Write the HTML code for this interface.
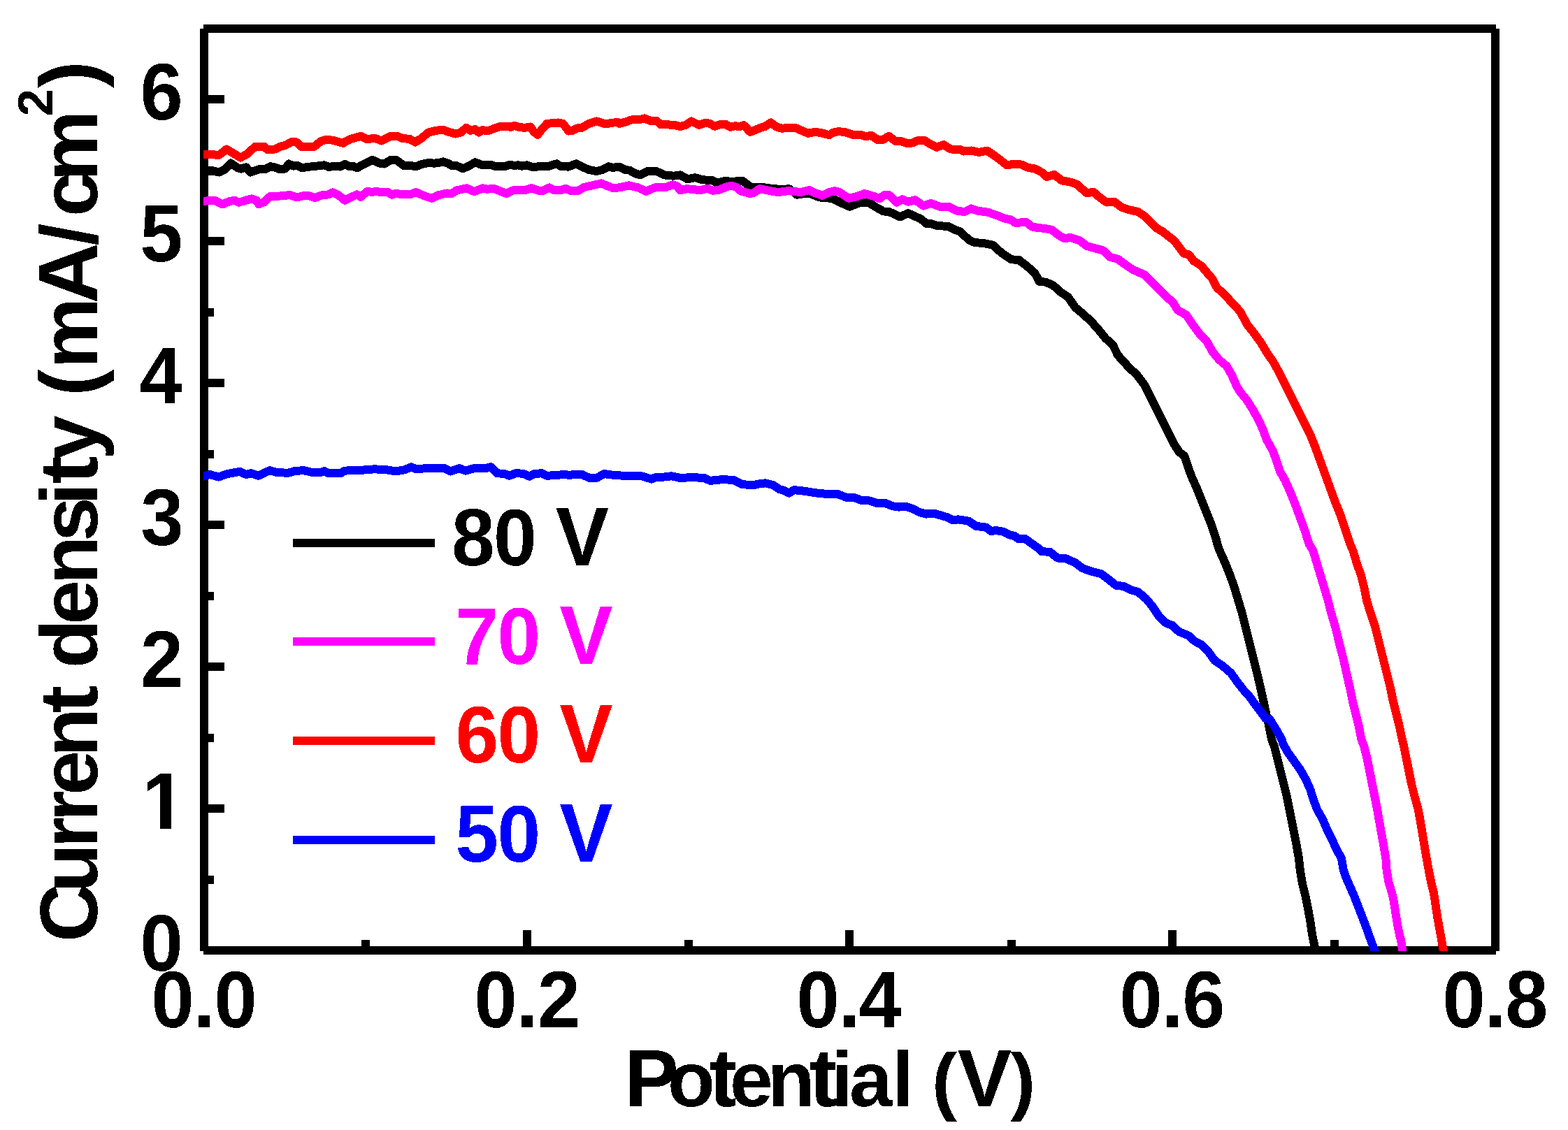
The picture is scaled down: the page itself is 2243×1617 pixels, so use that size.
<!DOCTYPE html>
<html lang="en"><head><meta charset="utf-8"><title>J-V curves: current density vs potential</title>
<style>html,body{margin:0;padding:0;background:#fff}body{width:2243px;height:1617px}svg{display:block}text{font-family:"Liberation Sans",sans-serif;font-weight:bold}</style>
</head><body>
<svg width="2243" height="1617" viewBox="0 0 2243 1617">
<defs><clipPath id="plot"><rect x="291" y="41" width="1849" height="1320"/></clipPath>
<filter id="crisp" x="-5%" y="-5%" width="110%" height="110%" color-interpolation-filters="sRGB"><feComponentTransfer><feFuncA type="discrete" tableValues="0 1"/></feComponentTransfer></filter>
</defs>
<rect x="0" y="0" width="2243" height="1617" fill="#fff"/>
<g fill="#000" shape-rendering="crispEdges">
<rect x="286" y="41" width="12" height="1320"/>
<rect x="2133" y="41" width="12" height="1320"/>
<rect x="291" y="35" width="1849" height="12"/>
<rect x="291" y="1354" width="1849" height="12"/>
<rect x="292" y="1151" width="29" height="12"/>
<rect x="292" y="948" width="29" height="12"/>
<rect x="292" y="745" width="29" height="12"/>
<rect x="292" y="542" width="29" height="12"/>
<rect x="292" y="339" width="29" height="12"/>
<rect x="292" y="136" width="29" height="12"/>
<rect x="292" y="1253" width="14" height="12"/>
<rect x="292" y="1050" width="14" height="12"/>
<rect x="292" y="847" width="14" height="12"/>
<rect x="292" y="644" width="14" height="12"/>
<rect x="292" y="441" width="14" height="12"/>
<rect x="292" y="238" width="14" height="12"/>
<rect x="748" y="1331" width="12" height="29"/>
<rect x="1209" y="1331" width="12" height="29"/>
<rect x="1671" y="1331" width="12" height="29"/>
<rect x="517" y="1345" width="12" height="15"/>
<rect x="979" y="1345" width="12" height="15"/>
<rect x="1441" y="1345" width="12" height="15"/>
<rect x="1903" y="1345" width="12" height="15"/>
</g>
<g clip-path="url(#plot)" fill="none" stroke-width="12" stroke-linejoin="round" stroke-linecap="butt" shape-rendering="crispEdges">
<polyline stroke="#000000" points="280,245.23 292.02,245.23 306.06,244.69 313.42,246.57 322.11,242.29 330.14,233.59 339.5,239.88 344.85,241.62 352.21,239.34 358.22,246.57 366.25,243.62 372.94,241.62 379.62,242.02 386.98,238.27 393,239.34 399.69,242.02 407.71,241.62 413.06,234.53 419.75,237.61 425.77,236.94 431.79,240.28 439.81,238.94 453.19,237.61 463.89,236.27 470.57,238.94 478.6,237.61 486.62,238.54 493.31,234.93 500,238.27 505.35,238.01 510.7,240.28 521.4,234.53 532.77,228.91 542.8,233.59 549.49,234.53 558.85,228.91 566.87,228.91 577.57,236.94 586,236.94 595.36,238.07 603.39,234.99 612.75,232.99 620.77,233.66 627.46,232.99 634.15,231.38 640.84,233.66 646.19,237 652.87,237 662.24,241.28 671.6,237 679.62,232.32 690.32,236.33 703.7,236.33 709.05,238.07 722.42,238.07 729.78,235.66 735.8,237 741.15,236.33 746.5,237.67 753.19,236.33 762.55,239.41 773.25,237.67 783.95,238.07 795.99,234.32 802.67,238.07 813.37,238.6 824.07,234.32 833.44,239.01 842.8,243.02 853.5,245.02 861.52,243.02 870.89,238.34 876.24,239.94 886,238.6 894.02,243.02 900.71,243.69 908.74,248.37 916.09,250.37 926.12,245.02 939.5,245.29 950.2,250.37 963.57,251.71 972.94,250.37 983.64,256.39 994.34,254.12 1003.7,257.06 1019.75,258.4 1025.1,261.74 1037.14,259.07 1046.5,259.74 1062.55,259.07 1071.91,266.42 1078.6,268.43 1090.64,267.76 1100,269.37 1113.37,270.7 1129.42,270.44 1140.12,278.73 1149.49,277.12 1157.51,276.46 1172.22,282.47 1186,283.54 1192.69,285.02 1203.39,290.37 1215.42,295.72 1228.8,290.37 1242.17,289.71 1252.87,296.39 1263.57,302.41 1271.6,303.08 1279.62,306.42 1287.65,310.44 1299.02,305.09 1309.05,309.77 1317.07,313.11 1325.1,319.8 1333.12,320.47 1341.15,323.14 1355.86,323.81 1365.22,328.49 1373.25,331.17 1386.62,343.87 1394.65,347.22 1406.69,347.89 1420.06,350.56 1433.44,362.6 1446.81,371.29 1457.51,371.96 1469.55,381.32 1480.25,390.69 1486.75,402.79 1495.67,403.68 1506.37,408.14 1517.07,417.95 1527.77,425.08 1538.47,440.24 1549.17,449.16 1559.87,458.97 1570.57,470.56 1581.27,483.93 1591.97,493.74 1599.1,508.36 1606.75,516.75 1615.67,526.56 1626.37,536.37 1637.07,550.63 1644.2,564.9 1651.33,579.17 1658.47,593.43 1665.6,607.7 1672.73,621.97 1679.87,636.23 1687,646.93 1694.13,652.28 1699.48,668.33 1704.83,682.6 1711.97,698.65 1719.1,716.48 1726.23,734.32 1733.37,752.15 1738.72,768.2 1741.39,778.36 1744.58,787.83 1752.61,805.67 1759.74,823.5 1765.98,841.33 1771.33,859.17 1776.68,877 1781.14,894.83 1785.6,912.67 1790.06,930.5 1794.52,948.33 1798.97,966.17 1803.08,984 1807,1001.83 1810.92,1019.67 1815.02,1037.5 1819.13,1058.36 1822.8,1067.83 1827.26,1085.67 1831.72,1103.5 1836.17,1121.33 1840.63,1139.17 1844.2,1157 1847.77,1174.83 1851.33,1192.67 1854.9,1210.5 1857.93,1228.33 1859.89,1246.17 1862.92,1264 1867.38,1281.83 1870.95,1299.67 1874.16,1317.5 1877.19,1338.36 1880.68,1354.18 1882.02,1360.87 1885.85,1380"/>
<polyline stroke="#ff00ff" points="280,287.76 291.35,287.76 307.4,286.69 318.1,292.44 327.46,288.43 335.49,286.69 341.51,289.77 350.2,287.09 359.56,284.42 366.25,286.42 370.26,292.04 378.29,289.1 386.31,281.07 402.36,280.41 414.4,279.07 425.1,282.41 433.12,280.41 442.49,280.41 450.51,283.08 459.87,279.47 469.24,278.4 475.92,275.46 483.95,279.07 493.31,286.69 501.34,282.41 510.7,278.4 516.05,281.74 525.41,273.72 532.1,275.06 537.45,273.72 542.8,274.65 554.84,275.06 560.19,278.67 566.87,276.79 573.56,278.13 586,278.4 595.36,275.12 607.4,280.47 617.43,283.81 627.46,279.13 639.5,276.46 646.19,277.12 652.87,272.44 667.59,269.37 678.29,274.18 690.32,269.37 697.01,270.7 706.37,269.77 714.4,273.11 724.43,277.12 733.12,272.44 743.82,272.44 750.51,272.44 759.87,269.1 770.57,272.84 777.26,272.84 785.96,268.43 791.97,272.04 802.67,272.04 808.69,269.77 816.05,272.84 826.75,272.84 836.11,267.76 848.15,265.09 860.19,262.41 868.21,265.76 876.24,268.83 886,268.43 899.37,265.35 912.75,268.43 924.12,273.78 936.82,268.43 952.87,267.76 962.24,264.42 968.92,266.42 972.94,272.44 982.3,270.17 993,271.11 1001.02,272.44 1011.72,269.77 1019.75,272.84 1029.11,271.51 1039.81,267.09 1046.5,265.76 1053.19,267.76 1059.87,273.38 1073.25,277.12 1078.6,275.79 1086.62,270.17 1094.65,271.77 1102.67,273.38 1113.37,275.12 1126.75,273.11 1134.77,273.78 1145.47,275.12 1157.51,272.04 1166.87,276.46 1176.24,279.8 1186,275.12 1194.02,273.25 1200.71,274.99 1214.09,283.69 1226.12,281.01 1236.82,277 1250.2,281.01 1258.22,284.36 1264.91,279.01 1271.6,279.01 1282.3,289.71 1290.32,285.29 1299.69,288.77 1309.05,286.09 1321.09,294.65 1331.79,291.04 1345.16,295.99 1358.54,296.39 1369.24,301.74 1379.94,303.08 1389.3,298.4 1398.66,301.74 1413.37,303.75 1426.75,308.43 1437.45,312.84 1445.47,314.18 1452.16,318.73 1468.21,318.19 1476.24,324.48 1486,326.22 1492.1,326.64 1504.58,328.78 1513.5,335.92 1522.42,341.27 1531.33,339.84 1543.82,343.94 1554.52,351.97 1567,355.53 1577.7,358.21 1588.4,368.02 1599.1,370.69 1609.8,378.72 1620.5,385.85 1636.55,392.98 1647.25,403.68 1659.73,415.27 1668.65,425.08 1677.57,432.22 1684.7,443.81 1697.18,450.94 1707.88,466.99 1716.8,478.58 1725.72,487.5 1734.63,503.55 1744.07,514.97 1754.77,523.88 1761.9,536.37 1769.03,552.42 1774.38,561.33 1783.3,572.03 1792.22,586.3 1801.13,602.35 1807.37,616.62 1811.83,629.1 1820.75,645.15 1826.1,659.42 1831.45,675.47 1838.58,687.95 1845.72,704 1852.85,721.83 1859.98,741.45 1867.12,761.07 1872.47,778.36 1878.33,787.83 1883.68,805.67 1889.03,823.5 1894.38,841.33 1899.73,859.17 1904.19,877 1909.54,894.83 1914,912.67 1918.46,930.5 1922.92,948.33 1926.84,966.17 1930.94,984 1934.51,1001.83 1938.97,1019.67 1943.42,1037.5 1947.53,1058.36 1951.2,1067.83 1955.66,1085.67 1959.22,1103.5 1962.79,1121.33 1966.36,1139.17 1969.92,1157 1972.96,1174.83 1976.17,1192.67 1979.38,1210.5 1982.41,1228.33 1983.66,1246.17 1986.87,1264 1991.32,1278.27 1994,1290.75 1996.67,1308.58 1999.71,1326.42 2002.02,1338.36 2003.84,1343.59 2006.3,1360.87 2009.01,1380"/>
<polyline stroke="#ff0000" points="280,221.15 291.08,221.15 306.06,221.29 312.75,222.22 324.12,213.53 334.15,219.55 344.18,225.57 352.87,220.89 364.91,209.92 378.29,209.92 382.3,213.93 393,213.53 401.02,209.92 409.05,207.51 417.74,202.83 423.76,203.23 431.79,210.45 449.17,209.92 458.54,202.43 465.22,200.16 475.92,200.56 490.64,204.84 500,199.49 516.05,194.81 524.07,198.82 537.45,198.15 545.47,201.49 558.85,194.81 568.21,194.81 576.24,198.15 586,198.82 594.02,203.56 603.39,197.54 612.75,189.52 620.77,187.51 632.81,185.51 642.17,188.85 651.54,191.52 659.56,189.52 666.92,182.83 672.94,186.84 679.62,185.1 684.97,189.52 690.32,186.17 698.35,187.24 707.71,183.5 717.07,180.56 725.1,180.56 730.45,181.89 735.8,179.75 742.49,181.89 750.51,182.83 758.54,181.49 763.89,188.85 769.24,192.86 774.59,185.51 782.61,176.81 791.97,176.14 798.66,175.47 805.35,176.81 813.37,187.51 818.72,186.84 825.41,183.5 832.1,182.83 842.8,176.81 853.5,173.47 865.54,177.48 876.24,175.74 882.92,174.81 886,176.81 894.02,174.81 903.39,171.46 912.75,171.46 922.11,169.46 930.14,172.8 939.5,173.07 944.85,178.15 952.87,178.15 966.25,179.22 972.94,181.09 980.96,178.82 988.99,173.47 999.69,178.82 1007.71,176.14 1014.4,176.54 1022.42,180.82 1030.45,178.15 1037.14,177.48 1045.16,181.89 1051.85,180.16 1057.2,181.49 1063.89,179.22 1073.25,188.85 1079.94,186.17 1087.96,182.83 1094.65,180.82 1102.67,175.47 1110.7,181.49 1118.72,183.77 1126.75,182.83 1137.45,182.83 1146.81,186.84 1156.17,190.86 1165.54,188.85 1174.9,190.19 1186,193.13 1192.69,189.39 1199.37,188.06 1210.07,189.39 1219.44,192.74 1231.47,193 1238.16,195.41 1246.19,193.81 1255.55,200.09 1263.57,199.69 1271.6,194.74 1280.96,202.1 1288.99,202.1 1297.01,204.77 1305.04,204.51 1313.06,201.03 1322.42,200.76 1330.45,206.11 1339.81,210.79 1349.84,207.18 1359.87,213.47 1373.25,213.87 1378.6,216.54 1389.3,215.47 1400,217.88 1412.04,215.74 1421.4,221.89 1430.76,228.85 1440.12,236.21 1450.82,234.87 1461.52,235.54 1469.55,239.55 1480.25,241.56 1486,244.23 1490.32,246.75 1497.45,252.99 1508.15,249.96 1518.85,258.34 1531.33,260.66 1540.25,263.69 1554.52,276.17 1564.32,274.93 1574.13,283.31 1583.05,289.55 1593.75,288.66 1604.45,296.68 1615.15,300.25 1627.63,302.92 1638.33,310.06 1649.03,320.76 1655.27,327 1663.3,331.46 1672.22,338.59 1679.35,343.94 1684.16,350.18 1693.62,362.67 1700.75,364.45 1707.53,373.37 1718.58,380.5 1727.5,391.2 1733.74,398.33 1740.87,411.71 1750.68,420.62 1763.17,434 1773.87,445.59 1784.57,465.21 1792.59,475.02 1804.18,491.07 1813.81,507.12 1820.75,516.75 1829.67,532.8 1838.58,550.63 1847.5,568.47 1856.42,586.3 1865.33,604.13 1874.25,621.97 1881.38,639.8 1888.52,659.42 1895.65,679.03 1902.78,698.65 1909.92,718.27 1917.94,737.88 1924.18,757.5 1931.32,778.36 1935.4,787.83 1940.75,805.67 1946.99,823.5 1951.45,841.33 1955.02,859.17 1960.37,877 1966.61,894.83 1971.07,912.67 1975.52,930.5 1979.98,948.33 1984.44,966.17 1988.9,984 1992.47,1001.83 1996.92,1019.67 2001.38,1037.5 2005.84,1058.36 2008.27,1067.83 2011.83,1085.67 2015.4,1103.5 2018.97,1121.33 2023.42,1139.17 2028.42,1157 2031.81,1174.83 2034.66,1192.67 2037.69,1210.5 2040.72,1228.33 2043.93,1246.17 2047.5,1264 2051.07,1278.27 2053.74,1296.1 2056.42,1313.93 2059.09,1328.2 2060.87,1338.36 2061.8,1343.59 2064.92,1360.87 2068.38,1380"/>
<polyline stroke="#0000ff" points="280,681.65 290.99,681.65 300.27,678.97 312.75,682.54 325.23,678.08 343.07,674.87 351.98,678.97 359.12,677.19 369.82,680.76 385.87,673.09 396.57,676.3 412.62,676.66 421.53,674.16 434.02,673.09 448.28,676.3 458.98,675.94 464.33,674.16 469.68,677.19 487.52,677.19 492.87,673.62 517.83,672.73 535.67,671.31 553.5,672.38 565.98,674.52 578.47,672.38 588.27,668.27 594.52,670.95 615.92,670.06 635.53,670.06 644.45,674.52 656.93,670.06 665.85,673.62 678.33,670.06 686,670.06 694.92,670.06 702.05,668.27 710.97,677.19 721.67,678.08 728.8,680.76 737.72,677.19 748.42,677.73 757.33,681.65 764.47,678.08 775.17,677.19 782.3,680.76 793,680.22 807.27,678.97 814.4,679.87 821.53,678.97 832.23,678.97 842.93,683.79 853.63,683.79 864.33,678.08 875.03,679.51 891.08,680.76 917.83,681.29 932.1,685.57 939.23,682.54 949.93,682.54 960.63,681.29 974.9,684.32 985.6,683.08 1007,683.79 1015.92,687.89 1033.75,686.11 1049.8,687 1062.28,693.24 1078.33,694.13 1086,692.35 1094.92,691.33 1105.62,694.01 1114.53,699.89 1121.67,702.03 1128.8,705.6 1135.93,701.14 1144.85,702.03 1157.33,703.82 1171.6,705.96 1189.43,707.38 1198.35,707.03 1210.83,711.84 1221.53,711.84 1232.23,715.94 1242.93,716.3 1253.63,719.87 1266.12,719.87 1276.82,724.32 1285.73,725.57 1296.43,724.86 1305.35,727.89 1314.27,732.71 1324.97,735.56 1337.45,735.02 1346.37,737.7 1355.28,740.37 1362.42,743.94 1371.33,743.41 1385.6,745.72 1396.3,752.86 1410.57,754.64 1417.7,759.99 1424.83,759.1 1435.53,760.88 1444.45,765.34 1451.58,767.12 1456.93,771.23 1465.85,770.69 1474.77,776.93 1486,784.96 1489.62,789.04 1502.1,789.93 1512.8,798.49 1523.5,798.85 1537.77,805.09 1548.47,813.12 1562.73,818.11 1575.22,821.14 1585.92,829.17 1596.62,837.73 1607.32,838.97 1618.02,844.32 1627.82,847 1639.42,856.81 1648.33,867.51 1657.25,880.88 1667.95,891.58 1676.87,894.79 1686.67,904.07 1700.05,909.42 1708.97,917.44 1718.77,922.79 1728.58,932.6 1737.5,945.08 1748.2,952.22 1760.68,962.92 1769.6,975.4 1778.52,986.99 1787.43,996.8 1796.35,1009.28 1805.27,1020.87 1810.62,1028.36 1815.92,1028.58 1824.83,1042.85 1833.75,1058.36 1835.28,1064.27 1842.42,1076.75 1851.33,1089.23 1860.25,1101.72 1868.27,1115.98 1874.52,1130.25 1878.97,1144.52 1884.32,1158.78 1891.46,1171.27 1897.7,1185.53 1904.83,1199.8 1911.97,1215.85 1919.1,1228.33 1921.24,1242.6 1924.45,1253.3 1930.69,1267.57 1936.93,1281.83 1943.17,1297.88 1949.42,1313.93 1954.77,1328.2 1958.33,1338.36 1960.37,1343.59 1966.5,1360.87 1973.29,1380"/>
</g>
<g shape-rendering="crispEdges">
<rect x="419" y="771" width="203" height="12" fill="#000"/>
<rect x="419" y="912" width="203" height="12" fill="#f0f"/>
<rect x="419" y="1054" width="203" height="12" fill="#f00"/>
<rect x="419" y="1196" width="203" height="12" fill="#00f"/>
</g>
<g filter="url(#crisp)">
<text transform="translate(292,1470) scale(1,1.04)" y="0" font-size="110" fill="#000"><tspan x="-75.61 -15.08 14.49">0.0</tspan></text>
<text transform="translate(754,1470) scale(1,1.04)" y="0" font-size="110" fill="#000"><tspan x="-75.61 -15.08 14.71">0.2</tspan></text>
<text transform="translate(1215,1470) scale(1,1.04)" y="0" font-size="110" fill="#000"><tspan x="-75.61 -15.08 13.87">0.4</tspan></text>
<text transform="translate(1677,1470) scale(1,1.04)" y="0" font-size="110" fill="#000"><tspan x="-75.61 -15.08 14.38">0.6</tspan></text>
<text transform="translate(2139,1470) scale(1,1.04)" y="0" font-size="110" fill="#000"><tspan x="-75.61 -15.08 14.36">0.8</tspan></text>
<text transform="translate(0,1388.8) scale(1,1.04)" y="0" font-size="110" fill="#000"><tspan x="200.49">0</tspan></text>
<text transform="translate(0,1185.8) scale(1,1.04)" y="0" font-size="110" fill="#000"><tspan x="203.88">1</tspan></text>
<text transform="translate(0,982.8) scale(1,1.04)" y="0" font-size="110" fill="#000"><tspan x="200.71">2</tspan></text>
<text transform="translate(0,779.8) scale(1,1.04)" y="0" font-size="110" fill="#000"><tspan x="201.14">3</tspan></text>
<text transform="translate(0,576.8) scale(1,1.04)" y="0" font-size="110" fill="#000"><tspan x="199.87">4</tspan></text>
<text transform="translate(0,373.8) scale(1,1.04)" y="0" font-size="110" fill="#000"><tspan x="200.25">5</tspan></text>
<text transform="translate(0,170.8) scale(1,1.04)" y="0" font-size="110" fill="#000"><tspan x="200.38">6</tspan></text>
<text transform="translate(0,808.5) scale(1,1.04)" y="0" font-size="111" fill="#000"><tspan x="645.98 706.11 767.85">80 </tspan><tspan x="794.71" font-size="114.5">V</tspan></text>
<text transform="translate(0,950) scale(1,1.04)" y="0" font-size="111" fill="#f0f"><tspan x="651.59 711.61 773.35">70 </tspan><tspan x="800.21" font-size="114.5">V</tspan></text>
<text transform="translate(0,1091) scale(1,1.04)" y="0" font-size="111" fill="#f00"><tspan x="651.51 711.61 773.35">60 </tspan><tspan x="800.21" font-size="114.5">V</tspan></text>
<text transform="translate(0,1232.5) scale(1,1.04)" y="0" font-size="111" fill="#00f"><tspan x="651.37 711.61 773.35">50 </tspan><tspan x="800.21" font-size="114.5">V</tspan></text>
<text transform="translate(0,1583) scale(1,1)" y="0" font-size="111" fill="#000"><tspan x="893.37" font-size="116">P</tspan><tspan x="955.1">o</tspan><tspan x="1014.34" font-size="119">t</tspan><tspan x="1043.91 1097.83">en</tspan><tspan x="1157.94" font-size="119">t</tspan><tspan x="1188.68 1215.11 1276.58 1307.42">ial </tspan><tspan x="1332.88" font-size="108">(</tspan><tspan x="1369.4" font-size="116.5">V</tspan><tspan x="1445.15" font-size="108">)</tspan></text>
<text transform="translate(139.1,0) rotate(-90) scale(1,1)" y="0" font-size="114.5" fill="#000"><tspan x="-1348.08" font-size="116">C</tspan><tspan x="-1277.05 -1213.59 -1175.64 -1137.72 -1083.34">urren</tspan><tspan x="-1020.36" font-size="119">t</tspan><tspan x="-982.23"> </tspan><tspan x="-956.34" font-size="115">d</tspan><tspan x="-893.77 -836.49 -774.9 -722.8">ensi</tspan><tspan x="-692.16" font-size="119">t</tspan><tspan x="-658.28 -594.6">y </tspan><tspan x="-566.7" font-size="116">(</tspan><tspan x="-527.48">m</tspan><tspan x="-434.6" font-size="121">A</tspan><tspan x="-351.51 -309.9 -259.48">/cm</tspan><tspan x="-166.4" font-size="71" dy="-64.3">2</tspan><tspan x="-126.08" font-size="116" dy="64.3">)</tspan></text>
</g>
<g fill="#fff" shape-rendering="crispEdges"><rect x="200" y="1172" width="29" height="18"/><rect x="245" y="1172" width="25" height="18"/></g>
</svg>
</body></html>
